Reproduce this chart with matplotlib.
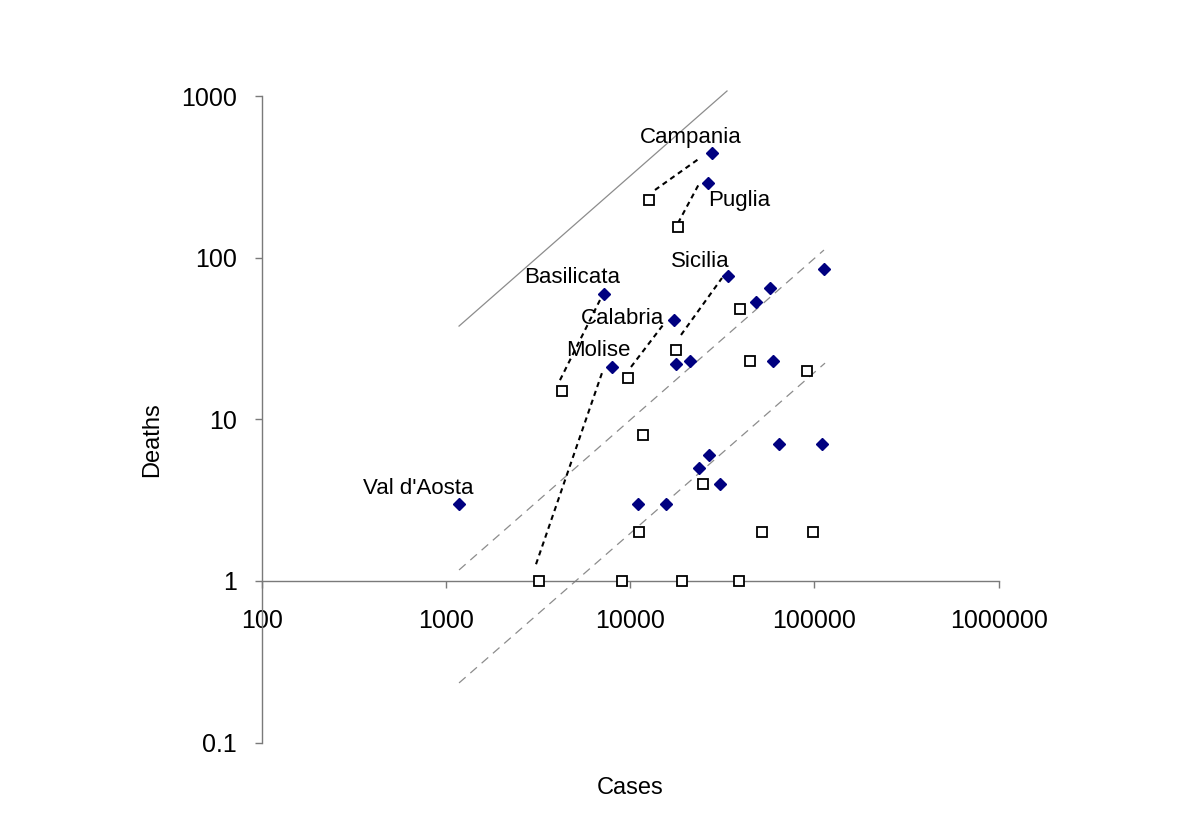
import matplotlib
matplotlib.use("Agg")
import matplotlib.pyplot as plt
from matplotlib.ticker import NullLocator

plt.rcParams['font.family'] = ['Liberation Sans', 'DejaVu Sans']

# latest figures (filled diamonds)
cases_now = [27800, 26450, 33960, 7210, 17300, 7935, 1177, 57400, 48200, 113200,
             17660, 21120, 59840, 63970, 110400, 26800, 23720, 30730, 11070, 15630]
deaths_now = [445, 290, 77, 60, 41, 21, 3, 65, 53, 85,
              22, 23, 23, 7, 7, 6, 5, 4, 3, 3]
names_now = ['Campania', 'Puglia', 'Sicilia', 'Basilicata', 'Calabria', 'Molise', "Val d'Aosta"]

# earlier figures (open squares)
cases_before = [12650, 18240, 39450, 17740, 9690, 44670, 90800, 4280, 11780,
                24750, 11160, 51940, 97900, 3187, 9027, 19110, 38970]
deaths_before = [228, 154, 48, 27, 18, 23, 20, 15, 8,
                 4, 2, 2, 2, 1, 1, 1, 1]

# dotted connectors: region -> (cases from, cases to), (deaths from, deaths to)
link_cases = {
    'Campania': [13630, 23920],
    'Puglia': [18180, 23920],
    'Basilicata': [4157, 6855],
    'Molise': [3081, 7117],
    'Calabria': [10100, 15070],
    'Sicilia': [18870, 31500],
}
link_deaths = {
    'Campania': [262.8, 414.5],
    'Puglia': [164, 294],
    'Basilicata': [17.5, 54.8],
    'Molise': [1.27, 20.2],
    'Calabria': [21.1, 38.4],
    'Sicilia': [33.3, 75.0],
}

# reference lines
ref_hi_cases = [1177, 33540]
ref_hi_deaths = [37.8, 1077]
ref_mid_cases = [1177, 112700]
ref_mid_deaths = [1.17, 111.7]
ref_lo_cases = [1177, 114200]
ref_lo_deaths = [0.234, 22.3]

x_ticks = [100, 1000, 10000, 100000, 1000000]
y_ticks = [0.1, 1, 10, 100, 1000]

fig = plt.figure(figsize=(12, 8.31), dpi=100)
ax = fig.add_axes([261.8 / 1200, 1 - 742.6 / 831, 736.8 / 1200, 646.4 / 831])
ax.set_xscale('log')
ax.set_yscale('log')
ax.set_xlim(100, 1000000)
ax.set_ylim(0.1, 1000)

line_grey = '#8c8c8c'
ax.plot(ref_hi_cases, ref_hi_deaths, color=line_grey, lw=0.9, clip_on=False)
ax.plot(ref_mid_cases, ref_mid_deaths, color=line_grey, lw=0.9, dashes=(7, 5))
ax.plot(ref_lo_cases, ref_lo_deaths, color=line_grey, lw=0.9, dashes=(7, 5))

for name in link_cases:
    ax.plot(link_cases[name], link_deaths[name], color='black', lw=1.5, dashes=(2.5, 2))

ax.plot(cases_before, deaths_before, ls='none', marker='s', ms=7.5,
        mfc='white', mec='black', mew=1.3, zorder=3)
ax.plot(cases_now, deaths_now, ls='none', marker='D', ms=6.3,
        mfc='#000080', mec='#000080', zorder=4)

# label offsets in pixels from each diamond (dx, dy to baseline)
offsets = {
    'Campania': (-21, 9.7),
    'Puglia': (31, -23),
    'Sicilia': (-28, 8.7),
    'Basilicata': (-32, 10.7),
    'Calabria': (-52, -3.3),
    'Molise': (-13, 11),
    "Val d'Aosta": (-41, 10),
}
for i, name in enumerate(names_now):
    dx, dy = offsets[name]
    ax.annotate(name, (cases_now[i], deaths_now[i]), xytext=(dx * 0.72, dy * 0.72),
                textcoords='offset points', ha='center', va='baseline', fontsize=16)

for side in ['top', 'right']:
    ax.spines[side].set_visible(False)
ax.spines['bottom'].set_position(('data', 1))
for side in ['bottom', 'left']:
    ax.spines[side].set_color('#7a7a7a')
    ax.spines[side].set_linewidth(1.0)

ax.set_xticks(x_ticks, labels=[str(v) for v in x_ticks])
ax.set_yticks(y_ticks, labels=['0.1', '1', '10', '100', '1000'])
ax.xaxis.set_minor_locator(NullLocator())
ax.yaxis.set_minor_locator(NullLocator())
ax.tick_params(axis='both', direction='out', length=5, width=1.0, color='#7a7a7a',
               labelsize=18)
ax.tick_params(axis='x', pad=15.5)
ax.tick_params(axis='y', pad=13)

fig.text(152 / 1200, 1 - 440 / 831, 'Deaths', rotation=90, ha='center', va='center', fontsize=17)
fig.text(630 / 1200, 1 - 788 / 831, 'Cases', ha='center', va='center', fontsize=17)

fig.savefig('out.png', dpi=100)
